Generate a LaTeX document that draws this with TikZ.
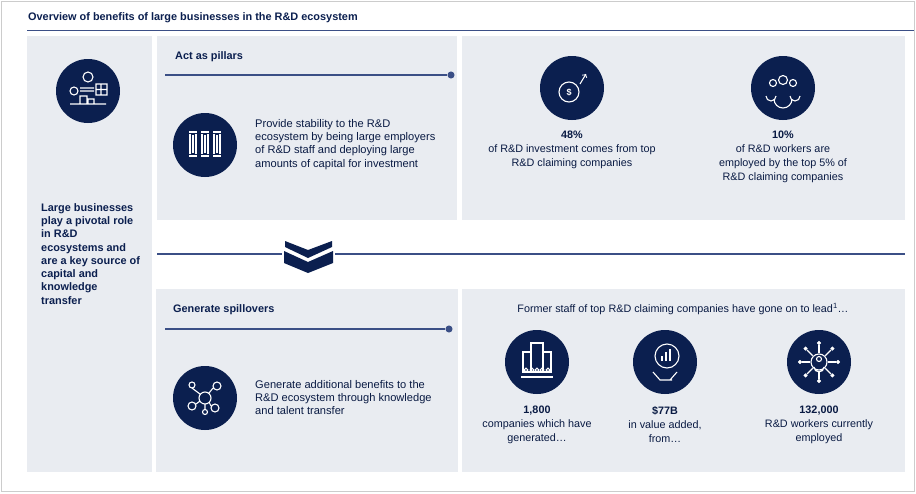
\documentclass[tikz,border=0pt]{standalone}
\usepackage{fontspec}
\setmainfont{Liberation Sans}
\begin{document}
\begin{tikzpicture}[x=1pt,y=-1pt,
  panel/.style={fill=panelgrey,draw=none},
  icon/.style={circle,fill=navy,minimum size=64pt,inner sep=0pt},
  body/.style={font=\fontsize{11.1}{13.3}\selectfont,text=navy!85!black,align=left,anchor=north west,inner sep=0pt},
  stat/.style={font=\fontsize{10.8}{14}\selectfont,text=navy!85!black,align=center,anchor=north,inner sep=0pt},
  head/.style={font=\bfseries\fontsize{10.9}{12}\selectfont,text=navy,anchor=west,inner sep=0pt},
  wl/.style={draw=white,line width=1.1pt},
  rule/.style={draw=linecol,line width=1.2pt}]
\definecolor{navy}{HTML}{0B1F4F}
\definecolor{panelgrey}{HTML}{E9ECF1}
\definecolor{linecol}{HTML}{3B4F86}
\useasboundingbox (0,0) rectangle (916,493);
\fill[white] (0,0) rectangle (916,493);
\draw[gray!40,line width=1pt] (1.5,1.5) rectangle (914.5,491.5);
\node[head] (title) at (28,18) {Overview of benefits of large businesses in the R\&D ecosystem};
\draw[rule,line width=1pt] (27,30) -- (914,30);
% panels
\fill[panel] (27,36) rectangle (152,472);
\fill[panel] (157,36) rectangle (457,220);
\fill[panel] (462,36) rectangle (905,220);
\fill[panel] (156,289) rectangle (458,472);
\fill[panel] (462,289) rectangle (905,472);
% left
\node[icon] (iL) at (88,91) {};
\draw[wl] (iL.center) ++(0,-14) circle (5);
\draw[wl] (74,91) circle (4) (70,104) -- (106,104) (80,104) rectangle (87,96) (88,104) rectangle (94,99) (96,84) rectangle (107,95) (101,84) -- (101,95) (96,89.5)--(107,89.5) (80,88)--(94,88) (80,91)--(94,91);
\node[font=\bfseries\fontsize{10.9}{13.3}\selectfont,text=navy,align=left,anchor=north west,inner sep=0pt] (lt) at (41,203) {Large businesses\\play a pivotal role\\in R\&D\\ecosystems and\\are a key source of\\capital and\\knowledge\\transfer};
% act as pillars
\node[head] (h1) at (175,57) {Act as pillars};
\coordinate (l1a) at (165,75);
\node[circle,fill=linecol,inner sep=2.5pt] (d1) at (451,75) {};
\draw[rule] (l1a) -- (d1);
\node[icon] (iP) at (205,145) {};
\foreach \xx in {193,205,217}{\draw[wl] (\xx-4,132) -- (\xx+4,132) (\xx-3,134) -- (\xx-3,154) (\xx+3,134)--(\xx+3,154) (\xx,135)--(\xx,153) (\xx-4,156)--(\xx+4,156);}
\node[body] (t1) at (255,119) {Provide stability to the R\&D\\ecosystem by being large employers\\of R\&D staff and deploying large\\amounts of capital for investment};
% stats top
\node[icon] (iS1) at (572,88) {};
\draw[wl] (iS1.center) ++(-3,4) circle (10);
\node[text=white,font=\bfseries\small] at (569,92) {\$};
\draw[wl,->] (580,84) -- (586,74);
\node[stat] (s1) at (572,131) {\textbf{48\%}\\of R\&D investment comes from top\\R\&D claiming companies};
\node[icon] (iS2) at (783,88) {};
\draw[wl] (783,80) circle (4.5) (773,83) circle (3.5) (793,83) circle (3.5) (774,99) arc (180:0:9) (766,96) arc (180:0:5) (790,96) arc (180:0:5);
\node[stat] (s2) at (783,131) {\textbf{10\%}\\of R\&D workers are\\employed by the top 5\% of\\R\&D claiming companies};
% separator
\coordinate (sa) at (157,254);
\coordinate (sb) at (905,254);
\draw[rule] (sa) -- (282,254) (335,254) -- (sb);
\fill[navy] (284,251) -- (308,262) -- (333,251) -- (333,263) -- (308,273) -- (284,263) -- cycle;
\fill[navy] (285,241) -- (308,250) -- (332,241) -- (332,247) -- (308,258) -- (285,247) -- cycle;
% spillovers
\node[head] (h2) at (173,310) {Generate spillovers};
\coordinate (l2a) at (165,329);
\node[circle,fill=linecol,inner sep=2.5pt] (d2) at (449,329) {};
\draw[rule] (l2a) -- (d2);
\node[icon] (iG) at (205,398) {};
\draw[wl] (205,398) circle (6) (192,385) circle (3) (217,386) circle (4) (192,406) circle (4) (215,408) circle (4) (205,412) circle (2.5) (192,388)--(200,394) (213,388)--(209,393) (196,404)--(200,401) (211,406)--(209,402) (205,404)--(205,410);
\node[body] (t2) at (255,380) {Generate additional benefits to the\\R\&D ecosystem through knowledge\\and talent transfer};
% bottom right
\node[font=\fontsize{10.8}{12}\selectfont,text=navy!85!black,inner sep=0pt] (fh) at (683,309) {Former staff of top R\&D claiming companies have gone on to lead\textsuperscript{1}\ldots};
\node[icon] (iB1) at (537,362) {};
\draw[wl] (531,343) rectangle (543,372) (523,352) rectangle (531,372) (543,352) rectangle (551,372) (521,377)--(553,377);
\foreach \xx in {526,532,537,542,548}{\draw[wl] (\xx,370) circle (1.8);}
\node[stat] (b1) at (537,406) {\textbf{1,800}\\companies which have\\generated\ldots};
\node[icon] (iB2) at (665,362) {};
\draw[wl] (667,356) circle (12) (653,372) -- (660,380) -- (672,380) (677,372)--(670,380);
\draw[wl] (662,361)--(662,356) (666,361)--(666,352) (670,361)--(670,349);
\node[stat] (b2) at (665,406) {\textbf{\$77B}\\in value added,\\from\ldots};
\node[icon] (iB3) at (819,362) {};
\draw[wl] (819,362) circle (8) (819,359) circle (2.5) (814,367) arc (180:0:5);
\foreach \a in {0,45,...,315}{\draw[wl] (819,362) ++(\a:9) -- ++(\a:8); \draw[white,fill=white] (819,362) ++(\a:19) circle (1.8);}
\node[stat] (b3) at (819,406) {\textbf{132,000}\\R\&D workers currently\\employed};
\end{tikzpicture}
\end{document}
